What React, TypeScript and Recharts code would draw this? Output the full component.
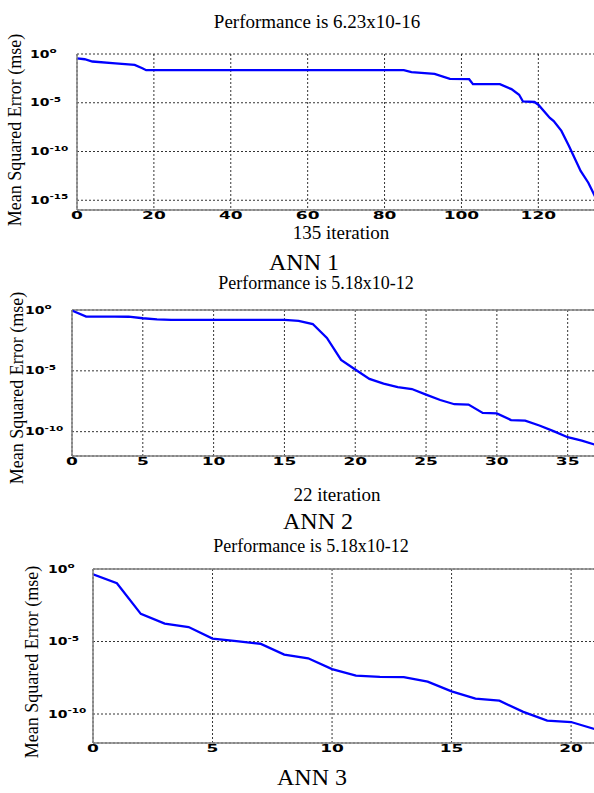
import { LineChart, Line, XAxis, YAxis, CartesianGrid, ReferenceLine } from "recharts";

// ANN 1 — 135 iterations
const ann1Epochs = [0, 2, 4, 10, 15, 17, 18, 85, 87, 93, 97, 102, 103, 110, 113, 115, 116, 119, 120, 123, 124, 126, 128, 129, 131, 133, 135];
const ann1Mse = [3.6e-1, 2.9e-1, 1.7e-1, 1.1e-1, 7.6e-2, 3.5e-2, 2.2e-2, 2.2e-2, 1.4e-2, 9.1e-3, 2.8e-3, 2.6e-3, 8.1e-4, 8.1e-4, 2.5e-4, 6.6e-5, 1.35e-5, 1.2e-5, 6.3e-6, 2.8e-7, 1.3e-7, 1.3e-8, 3.5e-10, 5e-11, 1e-12, 6.3e-14, 1.5e-15];

// ANN 2 — one point per epoch, 0..37
const ann2Epochs = [0, 1, 2, 3, 4, 5, 6, 7, 8, 9, 10, 11, 12, 13, 14, 15, 16, 17, 18, 19, 20, 21, 22, 23, 24, 25, 26, 27, 28, 29, 30, 31, 32, 33, 34, 35, 36, 37];
const ann2Mse = [
  8.9e-1, 2.9e-1, 2.9e-1, 2.9e-1, 2.8e-1, 2.1e-1, 1.7e-1, 1.55e-1, 1.55e-1, 1.55e-1,
  1.55e-1, 1.55e-1, 1.55e-1, 1.55e-1, 1.55e-1, 1.55e-1, 1.3e-1, 7e-2, 5e-3, 8e-5,
  1.3e-5, 2.2e-6, 9e-7, 4.5e-7, 3.2e-7, 1.1e-7, 4e-8, 1.8e-8, 1.7e-8, 3.5e-9,
  3.2e-9, 9e-10, 8e-10, 3.2e-10, 1.1e-10, 3.5e-11, 1.8e-11, 8e-12,
];

// ANN 3 — one point per epoch, 0..21
const ann3Epochs = [0, 1, 2, 3, 4, 5, 6, 7, 8, 9, 10, 11, 12, 13, 14, 15, 16, 17, 18, 19, 20, 21];
const ann3Mse = [
  4.3e-1, 1.05e-1, 8e-4, 1.7e-4, 1e-4, 1.6e-5, 1.05e-5, 7e-6, 1.25e-6, 7e-7,
  1.25e-7, 4.5e-8, 3.6e-8, 3.5e-8, 1.7e-8, 3.6e-9, 1.15e-9, 8.3e-10, 1.4e-10, 3.5e-11,
  2.8e-11, 9e-12,
];

const ann1XTicks = [0, 20, 40, 60, 80, 100, 120];
const ann2XTicks = [0, 5, 10, 15, 20, 25, 30, 35];
const ann3XTicks = [0, 5, 10, 15, 20];
const ann1YTicks = [1, 1e-5, 1e-10, 1e-15];
const ann23YTicks = [1, 1e-5, 1e-10];

const SERIF = '"Liberation Serif", "Times New Roman", serif';
const TICK_FONT = '"DejaVu Sans", sans-serif';

const rows = (epochs: number[], mse: number[]) => epochs.map((epoch, i) => ({ epoch, mse: mse[i] }));

function XTick({ x, y, payload }: any) {
  return (
    <g transform={`translate(${x},${y + 9})`}>
      <text transform="scale(1.7,1)" textAnchor="middle" fontFamily={TICK_FONT} fontWeight="bold" fontSize={10} fill="#000">
        {payload.value}
      </text>
    </g>
  );
}

function YTick({ x, y, payload, offset }: any) {
  const exp = Math.round(Math.log10(payload.value));
  return (
    <g transform={`translate(${x - offset},${y + 3.5})`}>
      <text transform="scale(1.4,1)" fontFamily={TICK_FONT} fontWeight="bold" fontSize={10} fill="#000">
        10
        <tspan dy={-4.5} fontSize={7.5}>{exp === 0 ? "o" : String(exp)}</tspan>
      </text>
    </g>
  );
}

type PanelProps = {
  top: number; left: number; right: number; plotH: number;
  data: { epoch: number; mse: number }[];
  xMax: number; xTicks: number[]; yMin: number; yTicks: number[];
  solidTop: boolean; labelOffset: number;
};

// the plots run a couple of pixels past the right edge of the page, as in the source figure
function Panel({ top, left, right, plotH, data, xMax, xTicks, yMin, yTicks, solidTop, labelOffset }: PanelProps) {
  const width = 600;
  return (
    <div style={{ position: "absolute", left: 0, top: top - 10, width }}>
      <LineChart width={width} height={10 + plotH + 30} data={data} margin={{ top: 10, right: width - right, bottom: 0, left: 0 }}>
        <CartesianGrid stroke="#000" strokeDasharray="2 2" strokeWidth={0.8} />
        <XAxis
          dataKey="epoch" type="number" domain={[0, xMax]} ticks={xTicks} interval={0} allowDataOverflow
          height={30} tickLine={false} tickSize={0} tickMargin={0}
          axisLine={{ stroke: "#808080", strokeWidth: 1.5 }} tick={<XTick />}
        />
        <YAxis
          type="number" scale="log" domain={[yMin, 1]} ticks={yTicks} interval={0} allowDataOverflow
          width={left} tickLine={false} tickSize={0} tickMargin={0}
          axisLine={{ stroke: "#808080", strokeWidth: 1.5 }}
          tick={(p: any) => <YTick {...p} offset={labelOffset} />}
        />
        {solidTop && <ReferenceLine y={1} stroke="#808080" strokeWidth={1.5} />}
        <Line dataKey="mse" type="linear" stroke="#0000ff" strokeWidth={2.3} dot={false} isAnimationActive={false} />
      </LineChart>
    </div>
  );
}

export default function App() {
  return (
    <div style={{ position: "fixed", left: 0, top: 0, width: 594, height: 793, overflow: "hidden", background: "#fff" }}>
      <Panel top={54} left={77} right={596} plotH={156} data={rows(ann1Epochs, ann1Mse)} xMax={135}
        xTicks={ann1XTicks} yMin={1e-16} yTicks={ann1YTicks} solidTop={false} labelOffset={47} />
      <Panel top={310} left={72} right={596} plotH={146} data={rows(ann2Epochs, ann2Mse)} xMax={37}
        xTicks={ann2XTicks} yMin={1e-12} yTicks={ann23YTicks} solidTop={true} labelOffset={47} />
      <Panel top={569} left={93} right={595} plotH={174} data={rows(ann3Epochs, ann3Mse)} xMax={21}
        xTicks={ann3XTicks} yMin={1e-12} yTicks={ann23YTicks} solidTop={true} labelOffset={45} />
      <svg width={594} height={793} style={{ position: "absolute", left: 0, top: 0, pointerEvents: "none" }}>
        <g fontFamily={SERIF} fill="#000" textAnchor="middle" dominantBaseline="central">
          <text x={317} y={21} fontSize={19}>Performance is 6.23x10-16</text>
          <text x={341} y={232} fontSize={19}>135 iteration</text>
          <text x={304} y={262} fontSize={24}>ANN 1</text>
          <text x={316} y={283} fontSize={18}>Performance is 5.18x10-12</text>
          <text x={337} y={494} fontSize={19}>22 iteration</text>
          <text x={318} y={521} fontSize={24}>ANN 2</text>
          <text x={311} y={546} fontSize={18}>Performance is 5.18x10-12</text>
          <text x={312} y={777} fontSize={24}>ANN 3</text>
          <text transform="translate(15,130) rotate(-90)" fontSize={18}>Mean Squared Error  (mse)</text>
          <text transform="translate(17,388) rotate(-90)" fontSize={18}>Mean Squared Error  (mse)</text>
          <text transform="translate(32,662) rotate(-90)" fontSize={18}>Mean Squared Error  (mse)</text>
        </g>
      </svg>
    </div>
  );
}
